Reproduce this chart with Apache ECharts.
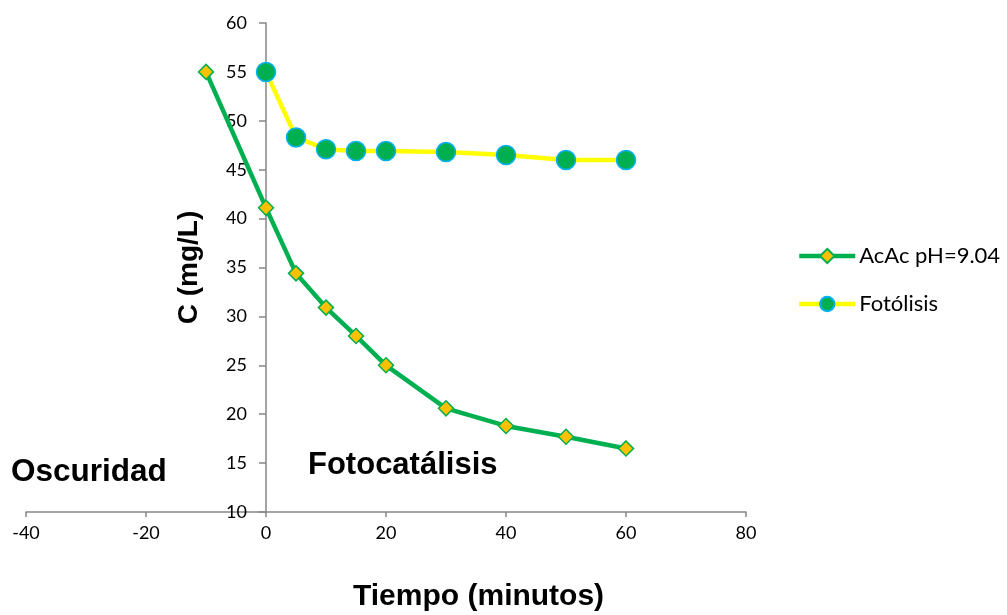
<!DOCTYPE html>
<html><head><meta charset="utf-8">
<script src="https://cdn.jsdelivr.net/npm/echarts@6/dist/echarts.min.js"></script>
<style>html,body{margin:0;padding:0;background:#fff}#c{width:1007px;height:615px}</style>
</head><body><div id="c"></div>
<script>
const timeAcAc = [-10, 0, 5, 10, 15, 20, 30, 40, 50, 60];
const valAcAc = [55, 41.1, 34.4, 30.9, 28.0, 25.0, 20.6, 18.8, 17.7, 16.5];
const timeFoto = [0, 5, 10, 15, 20, 30, 40, 50, 60];
const valFoto = [55, 48.3, 47.1, 46.9, 46.9, 46.8, 46.5, 46.0, 46.0];
const seriesNames = ['AcAc pH=9.04', 'Fotólisis'];
const xTitle = 'Tiempo (minutos)';
const yTitle = 'C (mg/L)';
const notes = ['Oscuridad', 'Fotocatálisis'];

const chart = echarts.init(document.getElementById('c'));
const lblFont = 'Lato, "Open Sans", sans-serif';
const boldFont = '"Liberation Sans", Arial, sans-serif';
chart.setOption({
  animation: false,
  grid: {left: 26, right: 261, top: 23, bottom: 103, containLabel: false, outerBoundsMode: 'none'},
  xAxis: {
    type: 'value', min: -40, max: 80, interval: 20,
    splitLine: {show: false},
    axisLine: {onZero: false, lineStyle: {color: '#868686', width: 1.5}},
    axisTick: {show: true, length: 5, lineStyle: {color: '#868686', width: 1.5}},
    axisLabel: {color: '#000', fontSize: 18, fontFamily: lblFont, margin: 12}
  },
  yAxis: {
    type: 'value', min: 10, max: 60, interval: 5,
    offset: -240,
    splitLine: {show: false},
    axisLine: {onZero: false, lineStyle: {color: '#868686', width: 1.5}},
    axisTick: {show: true, length: 7, lineStyle: {color: '#868686', width: 1.5}},
    axisLabel: {color: '#000', fontSize: 18, fontFamily: lblFont, margin: 19},
    name: yTitle, nameLocation: 'middle', nameGap: 63, nameRotate: 90,
    nameTextStyle: {color: '#000', fontSize: 28, fontWeight: 'bold', fontFamily: boldFont}
  },
  legend: {
    orient: 'vertical', left: 792, top: 240, itemGap: 26,
    itemWidth: 56, itemHeight: 18,
    lineStyle: {width: 4.5},
    textStyle: {color: '#000', fontSize: 22, fontFamily: lblFont, padding: [0, 0, 0, -1]},
    data: seriesNames
  },
  graphic: [
    {type: 'text', left: 11, top: 456, style: {text: notes[0], fontSize: 31.5, fontWeight: 'bold', fill: '#000', fontFamily: boldFont}},
    {type: 'text', left: 308, top: 450, style: {text: notes[1], fontSize: 31, fontWeight: 'bold', fill: '#000', fontFamily: boldFont}},
    {type: 'text', left: 353, top: 582, style: {text: xTitle, fontSize: 30, fontWeight: 'bold', fill: '#000', fontFamily: boldFont}}
  ],
  series: [
    {
      name: seriesNames[0], type: 'line',
      data: timeAcAc.map((t, i) => [t, valAcAc[i]]),
      lineStyle: {color: '#00B050', width: 4.5},
      itemStyle: {color: '#FFC000', borderColor: '#00B050', borderWidth: 1.5},
      symbol: 'diamond', symbolSize: 15, showAllSymbol: true, z: 2
    },
    {
      name: seriesNames[1], type: 'line',
      data: timeFoto.map((t, i) => [t, valFoto[i]]),
      lineStyle: {color: '#FFFF00', width: 4.5},
      itemStyle: {color: '#00B050', borderColor: '#00B0F0', borderWidth: 1.5},
      symbol: 'circle', symbolSize: 19, showAllSymbol: true, z: 3
    }
  ]
});
</script></body></html>
